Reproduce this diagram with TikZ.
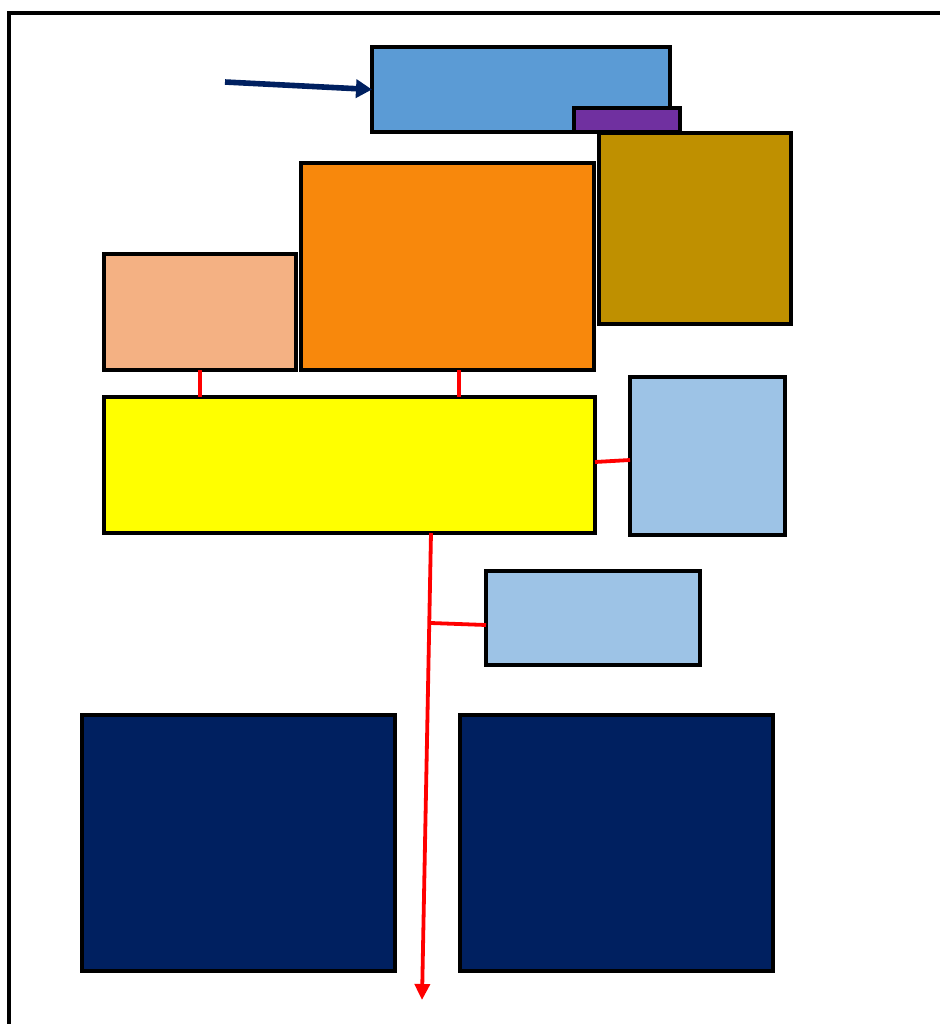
\documentclass[tikz,border=0pt]{standalone}
\usetikzlibrary{fit,arrows.meta}
\definecolor{skyblue}{RGB}{91,155,213}
\definecolor{paleblue}{RGB}{157,195,230}
\definecolor{plum}{RGB}{112,48,160}
\definecolor{gold}{RGB}{191,144,0}
\definecolor{tangerine}{RGB}{248,136,12}
\definecolor{peach}{RGB}{244,177,131}
\definecolor{navy}{RGB}{0,32,96}
\definecolor{lemon}{RGB}{255,255,0}
\definecolor{signal}{RGB}{255,0,0}
\begin{document}
\begin{tikzpicture}[x=0.5pt, y=-0.5pt,
    box/.style={draw=black, line width=1.6pt, inner sep=0pt, outer sep=0pt},
    link/.style={draw=signal, line width=1.9pt}]
    \useasboundingbox (0,0) rectangle (939,1024);
    % outer frame
    \draw[line width=2pt] (9,1030) -- (9,13) -- (945,13);

    % top row
    \node[box, fill=skyblue, fit={(372,47) (670,132)}] (head) {};
    \node[box, fill=plum, fit={(574,108) (680,132)}] (tab) {};
    \node[box, fill=gold, fit={(599,133) (791,324)}] (side) {};
    \node[box, fill=tangerine, fit={(301,163) (594,370)}] (core) {};
    \node[box, fill=peach, fit={(104,254) (296,370)}] (left) {};

    % middle row
    \node[box, fill=lemon, fit={(104,397) (595,533)}] (base) {};
    \node[box, fill=paleblue, fit={(630,377) (785,535)}] (aside) {};
    \node[box, fill=paleblue, fit={(486,571) (700,665)}] (note) {};

    % bottom row
    \node[box, fill=navy, fit={(82,715) (395,971)}] (blockA) {};
    \node[box, fill=navy, fit={(460,715) (773,971)}] (blockB) {};

    % connectors
    \coordinate (start) at (225,82);
    \coordinate (c1) at (200,0);
    \coordinate (c2) at (459,0);
    \coordinate (c3) at (0,462);
    \coordinate (c4) at (0,460);
    \coordinate (c5) at (431,0);
    \coordinate (fork) at (431,623);
    \coordinate (c6) at (0,625);
    \coordinate (tip) at (422,1000);

    \draw[navy, line width=2.8pt, -{Triangle[length=8pt,width=9pt]}] (start) -- (head.west);
    \draw[link] (c1 |- left.south) -- (c1 |- base.north);
    \draw[link] (c2 |- core.south) -- (c2 |- base.north);
    \draw[link] (base.east |- c3) -- (aside.west |- c4);
    \draw[link, -{Triangle[length=8pt,width=7.5pt]}] (c5 |- base.south) -- (tip);
    \draw[link] (fork) -- (note.west |- c6);
\end{tikzpicture}
\end{document}
